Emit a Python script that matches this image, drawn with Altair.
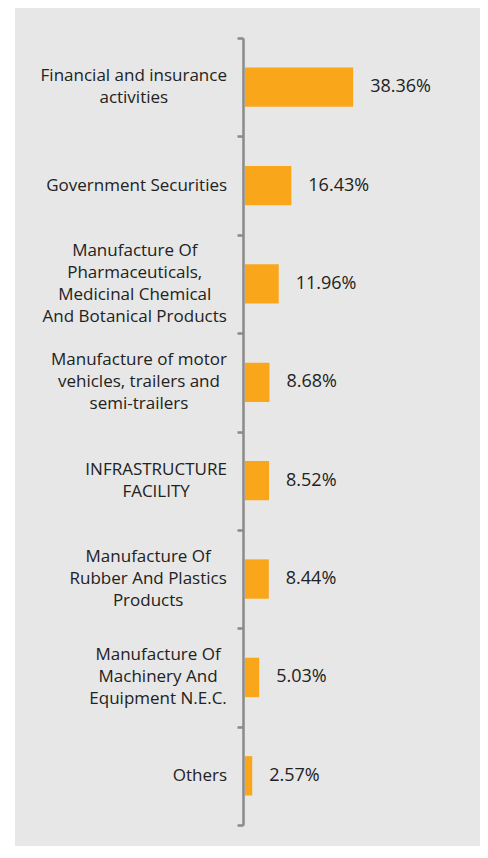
import altair as alt
import pandas as pd

categories = [
    "Financial and insurance activities",
    "Government Securities",
    "Manufacture Of Pharmaceuticals, Medicinal Chemical And Botanical Products",
    "Manufacture of motor vehicles, trailers and semi-trailers",
    "INFRASTRUCTURE FACILITY",
    "Manufacture Of Rubber And Plastics Products",
    "Manufacture Of Machinery And Equipment N.E.C.",
    "Others",
]
label_lines = [
    ["Financial and insurance", "activities"],
    ["Government Securities"],
    ["Manufacture Of", "Pharmaceuticals,", "Medicinal Chemical", "And Botanical Products"],
    ["Manufacture of motor", "vehicles, trailers and", "semi-trailers"],
    ["INFRASTRUCTURE", "FACILITY"],
    ["Manufacture Of", "Rubber And Plastics", "Products"],
    ["Manufacture Of", "Machinery And", "Equipment N.E.C."],
    ["Others"],
]
values = [38.36, 16.43, 11.96, 8.68, 8.52, 8.44, 5.03, 2.57]
value_labels = ["38.36%", "16.43%", "11.96%", "8.68%", "8.52%", "8.44%", "5.03%", "2.57%"]

FONT = "Open Sans"
FS = 17
PCT_FS = 18
LH = 22
W, H = 465, 838
Y0, Y1 = 30, 817
BAND = (Y1 - Y0) / len(categories)
ZERO_PX = 230.0
PX = 2.82
LABEL_RIGHT_PX = 212.0

# approximate Open Sans advance widths (units per 2048 em)
_w = {' ': 532, 'a': 1139, 'b': 1255, 'c': 975, 'd': 1255, 'e': 1149, 'f': 694, 'g': 1122,
      'h': 1257, 'i': 518, 'j': 518, 'k': 1075, 'l': 518, 'm': 1905, 'n': 1257, 'o': 1237,
      'p': 1255, 'q': 1255, 'r': 836, 's': 977, 't': 723, 'u': 1257, 'v': 1026, 'w': 1593,
      'x': 1073, 'y': 1028, 'z': 977, 'A': 1296, 'B': 1327, 'C': 1292, 'D': 1493, 'E': 1139,
      'F': 1057, 'G': 1491, 'H': 1511, 'I': 571, 'K': 1219, 'L': 1124, 'M': 1856, 'N': 1554,
      'O': 1593, 'P': 1264, 'R': 1284, 'S': 1104, 'T': 1128, 'U': 1479, 'V': 1233, 'W': 1888,
      'X': 1226, 'Y': 1168, ',': 510, '.': 545, '-': 659}


def text_width(s):
    return sum(_w.get(ch, 1150) for ch in s) / 2048.0 * FS


label_x = []
label_dy = []
for lines in label_lines:
    bw = max(text_width(l) for l in lines)
    label_x.append((LABEL_RIGHT_PX - bw / 2.0 - ZERO_PX) / PX)
    label_dy.append(BAND / 2.0 - (len(lines) - 1) * LH / 2.0)

df = pd.DataFrame({
    "cat": categories,
    "value": values,
    "zero": [0.0] * len(values),
    "pct": value_labels,
    "label": ["\n".join(l) for l in label_lines],
    "lx": label_x,
    "ldy": label_dy,
})

xscale = alt.Scale(domain=[-ZERO_PX / PX, (W - ZERO_PX) / PX], nice=False, zero=False)
yscale = alt.Scale(domain=categories, range=[Y0, Y1], paddingInner=0, paddingOuter=0)
yaxis = alt.Axis(labels=False, title=None, offset=-228, tickBand="extent",
                 domainColor="#8a8a8a", domainWidth=2.5, tickColor="#8a8a8a",
                 tickWidth=2.5, tickSize=6, grid=False)
yenc = alt.Y("cat:N", sort=categories, scale=yscale, axis=yaxis)

base = alt.Chart(df)

bars = base.mark_bar(height={"band": 0.4}, color="#FAA61A").encode(
    x=alt.X("value:Q", scale=xscale, axis=None),
    x2=alt.X2("zero:Q"),
    y=yenc,
)

pct = base.mark_text(align="left", baseline="middle", dx=17, font=FONT, fontSize=PCT_FS,
                     color="#222222").encode(
    x=alt.X("value:Q", scale=xscale, axis=None),
    y=yenc,
    text="pct:N",
)

labels = base.mark_text(align="center", baseline="middle", lineBreak="\n", lineHeight=LH,
                        font=FONT, fontSize=FS, color="#222222").encode(
    x=alt.X("lx:Q", scale=xscale, axis=None),
    y=yenc,
    yOffset=alt.YOffset("ldy:Q", scale=None),
    text="label:N",
)

chart = alt.layer(bars, pct, labels).properties(
    width=W, height=H,
    autosize=alt.AutoSizeParams(type="none"),
    padding={"left": 7, "top": 0, "right": 0, "bottom": 0},
    background="white",
).configure_view(fill="#e6e7e6", strokeWidth=0)

chart.save("out.html", embed_options={"renderer": "svg", "actions": False})
